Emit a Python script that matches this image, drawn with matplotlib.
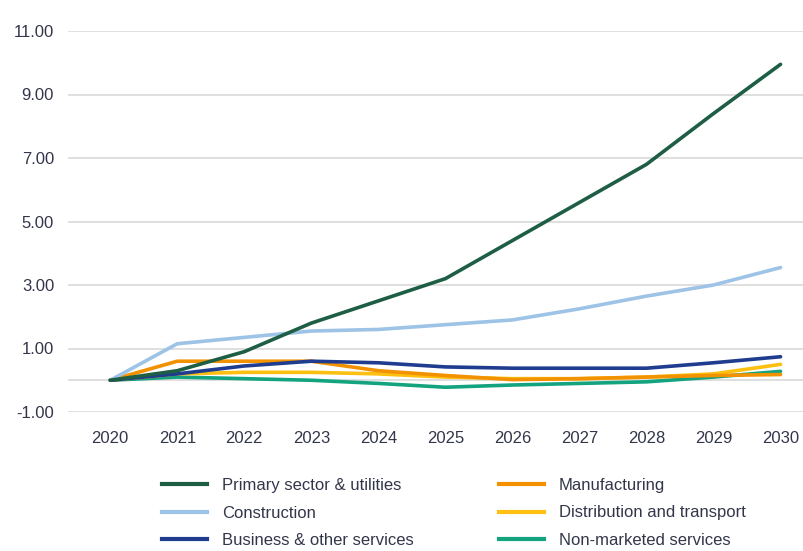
import matplotlib.pyplot as plt
from matplotlib.lines import Line2D

years = [2020, 2021, 2022, 2023, 2024, 2025, 2026, 2027, 2028, 2029, 2030]
primary = [0, 0.3, 0.9, 1.8, 2.5, 3.2, 4.4, 5.6, 6.8, 8.4, 9.95]
construction = [0, 1.15, 1.35, 1.55, 1.6, 1.75, 1.9, 2.25, 2.65, 3.0, 3.55]
manufacturing = [0, 0.6, 0.6, 0.6, 0.3, 0.15, 0.02, 0.05, 0.1, 0.15, 0.18]
distribution = [0, 0.2, 0.25, 0.25, 0.2, 0.1, 0.05, 0.05, 0.1, 0.2, 0.5]
business = [0, 0.2, 0.45, 0.6, 0.55, 0.42, 0.38, 0.38, 0.38, 0.55, 0.74]
nonmarket = [0, 0.1, 0.05, 0.0, -0.1, -0.22, -0.15, -0.1, -0.05, 0.1, 0.28]

names = ['Primary sector & utilities', 'Manufacturing', 'Construction',
         'Distribution and transport', 'Business & other services', 'Non-marketed services']
colors = ['#1d5e44', '#f39200', '#9dc3e6', '#fdc010', '#1f3c8f', '#13a37f']
series = [primary, manufacturing, construction, distribution, business, nonmarket]

plt.rcParams['font.family'] = ['Liberation Sans', 'DejaVu Sans']
txt = '#33364a'

fig = plt.figure(figsize=(8.04, 5.51), dpi=100)
ax = fig.add_axes([68 / 804, 1 - 412 / 551, 736 / 804, 381 / 551])

# draw order: flat lines first, primary and construction on top
order = [5, 3, 1, 4, 2, 0]
for i in order:
    ax.plot(years, series[i], color=colors[i], lw=2.6, solid_capstyle='round', zorder=3)

ax.set_xlim(2019.37, 2030.35)
ax.set_ylim(-1, 11)
ticks = [-1, 1, 3, 5, 7, 9, 11]
ax.set_yticks(ticks)
ax.set_yticklabels(['%.2f' % t for t in ticks], fontsize=12, color=txt)
ax.set_xticks(years)
ax.set_xticklabels([str(y) for y in years], fontsize=12, color=txt)
for t in ticks + [0]:
    ax.axhline(t, color='#d9d9d9', lw=1.2, zorder=1)
for s in ax.spines.values():
    s.set_visible(False)
ax.tick_params(length=0)
ax.tick_params(axis='y', pad=10)
ax.tick_params(axis='x', pad=14)

# two legend columns placed separately
for idx, xpos in [([0, 2, 4], 147), ([1, 3, 5], 484)]:
    hs = [Line2D([0], [0], color=colors[i], lw=3) for i in idx]
    fig.legend(hs, [names[i] for i in idx], loc='upper left',
               bbox_to_anchor=(xpos / 804, 1 - 463 / 551), frameon=False,
               fontsize=12, labelcolor=txt, handlelength=2.7, handletextpad=0.9,
               labelspacing=0.75)

fig.savefig('out.png', dpi=100)
